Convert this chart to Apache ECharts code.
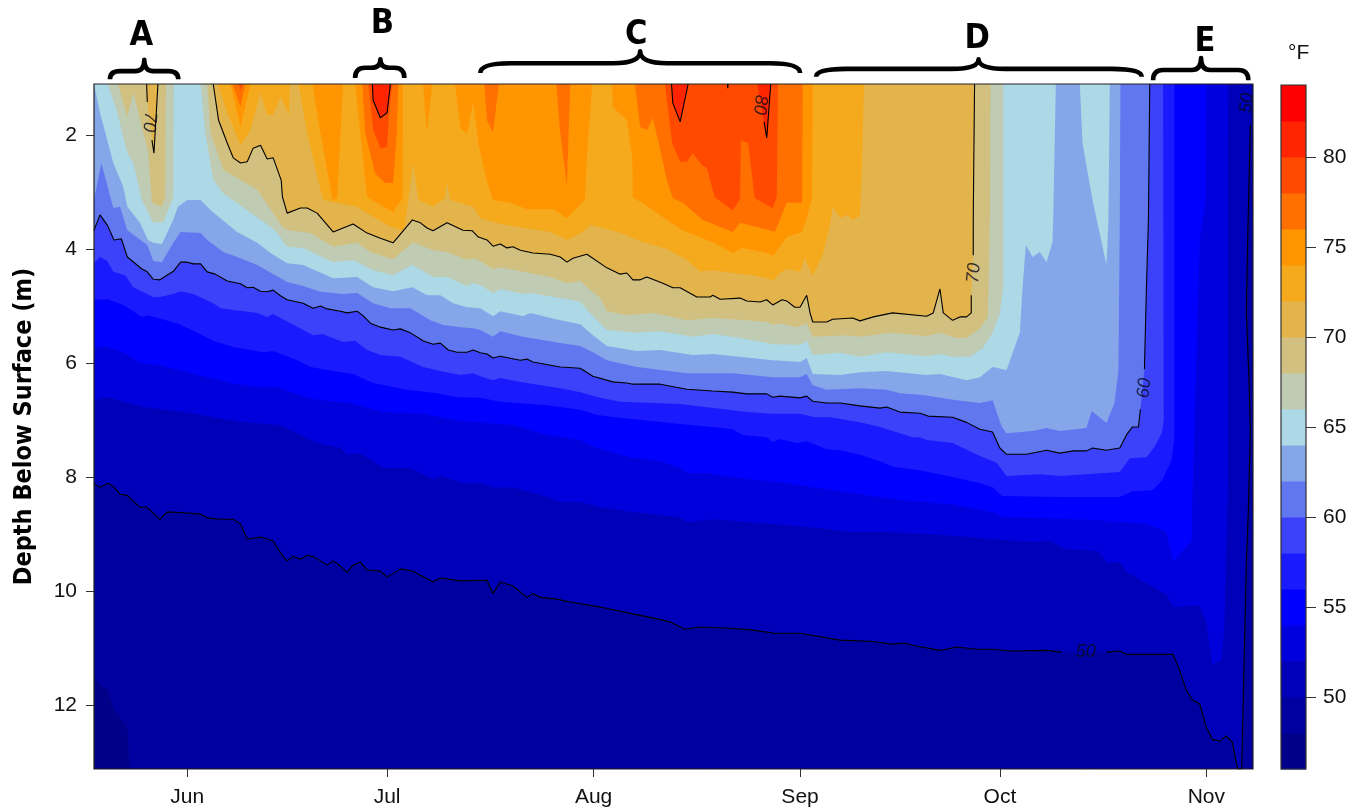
<!DOCTYPE html>
<html><head><meta charset="utf-8"><style>html,body{margin:0;padding:0;background:#fff}#c{width:1362px;height:809px}</style>
<script src="https://cdn.jsdelivr.net/npm/echarts@6/dist/echarts.min.js"></script></head><body><div id="c"></div>
<script>
// x = days since 1 June, y = depth (m). Flat lists: day,depth,... ; null = break in the drawn contour line.
const xMin=-14,xMax=160,TOP=1.105,BOTTOM=13.12;
const monthDays=[0,30,61,92,122,153];
const monthNames=['Jun','Jul','Aug','Sep','Oct','Nov'];
const depthTicks=[2,4,6,8,10,12];
const tempTicks=[50,55,60,65,70,75,80];
const bandLow=[46,48,50,52,54,56,58,60,62,64,66,68,70,72,74,76,78,80,82];
const bandColors=['#00008B','#0000A0','#0000B8','#0000DC','#0000FF','#1A1AFF','#3C42F9','#6077F0','#85A6E9','#ADD8E6','#BFCBB3','#D1C07F','#E3B44B','#F5AA1E','#FF9500','#FF7000','#FF4A00','#FF2500','#FF0000'];
const iso46=[-14,13.12,160,13.12];
const iso48=[-14,11.44,-13.1,11.65,-12,11.7,-11.1,12.04,-9,12.4,-8.6,13.1,-8.4,13.12,160,13.12];
const iso50=[-14,8.11,-13.1,8.18,-12,8.11,-11.1,8.16,-10.1,8.3,-9,8.32,-7.1,8.53,-6,8.53,-4.1,8.74,-3,8.61,0,8.63,2,8.65,3.2,8.72,5,8.74,6.9,8.74,8,8.82,9,9.09,11,9.05,12.9,9.12,14,9.33,15,9.47,15.9,9.39,17,9.44,18,9.37,18.9,9.39,21,9.54,21.9,9.47,23,9.56,24,9.67,24.9,9.54,26,9.49,27,9.63,29,9.65,30,9.75,32,9.61,33.9,9.65,36.9,9.84,38,9.77,41,9.82,45,9.81,45.9,10.04,47,9.84,48.9,9.91,51,10.11,51.9,10.04,53,10.11,55.5,10.14,57.5,10.19,62,10.28,66.5,10.39,69.5,10.46,72.5,10.54,74.7,10.67,77,10.63,81.5,10.65,84.5,10.68,88.2,10.74,92,10.74,98,10.86,102.5,10.88,105.9,10.93,107.7,10.91,108.9,10.95,113,11.04,115.5,10.98,118.5,11.02,120.9,11.02,123.5,11.05,129,11.04,131.3,11.07,null,138,11.07,140,11.05,141,11.11,148,11.11,149,11.39,150,11.74,150.9,11.91,152,11.98,153,12.39,153.9,12.6,155,12.63,156,12.54,156.9,12.65,157.7,13.12,158.3,13.12,159,9.51,159.3,8.58,159.6,7.18,159.4,6.3,159,5.12,159.2,3.84,159.6,1.82,null,159.8,1.105];
const iso52=[-14,6.65,-11.6,6.6,-10.5,6.65,-6.6,6.77,-0.6,6.86,8.4,7.04,14,7.09,19.5,7.4,23,7.49,24,7.61,26,7.58,29.4,7.84,33.5,7.84,36.9,8.04,38,7.98,41.4,8.11,44,8.11,45.9,8.18,48.9,8.18,54,8.35,56,8.44,59,8.44,62,8.53,68,8.63,74,8.7,75,8.79,78.9,8.74,87,8.82,93.9,8.88,99,8.96,104,8.96,114,9.02,120.9,9.09,126.9,9.14,129.5,9.12,131.7,9.26,136.7,9.3,138.2,9.51,140,9.49,141,9.67,144,9.86,147,10.07,148,10.28,152,10.25,153,10.56,153.9,11.3,155.3,11.21,155.7,10.63,156.2,8.4,156.3,1.105];
const iso54=[-14,5.72,-12,5.72,-9.6,5.81,-7.1,6,-4.1,6.04,0,6.16,3,6.25,6.5,6.35,10.5,6.42,13.5,6.42,18,6.61,20.4,6.65,24.5,6.7,29.4,6.86,35.4,6.89,41,7.02,44,7.04,48.9,7.09,54,7.26,59,7.35,61.5,7.49,66.5,7.65,71,7.72,74,7.84,75.2,7.93,78,7.93,83,8.02,89,8.09,93.9,8.18,104,8.35,107,8.4,114.5,8.47,120.9,8.61,122.4,8.7,135.9,8.75,144,8.82,147,8.96,148,9.49,150.8,9.11,150.9,8.4,152,3.84,152.9,3.14,153,1.105];
const iso56=[-14,4.89,-12,4.88,-9.6,4.98,-6.8,5.19,-6,5.16,-1.5,5.3,1.5,5.47,3.9,5.61,6.9,5.72,11.4,5.81,12.9,5.79,16.5,5.95,18.5,6.07,23,6.16,24.9,6.19,27.9,6.35,33,6.47,37.5,6.53,40.5,6.6,44,6.61,47,6.68,54,6.74,59,6.82,61.5,6.91,65,6.96,74,7.07,78.9,7.12,81.9,7.16,83.4,7.26,87,7.3,87.9,7.39,89,7.33,91.5,7.4,93,7.37,96,7.51,98,7.53,101,7.61,104,7.72,105.9,7.82,110,7.88,114.9,8,119,8.11,120.9,8.18,122.3,8.33,131,8.35,140,8.35,141.9,8.25,144.9,8.23,146.4,8.05,147.8,7.7,148.2,7.3,148.2,3.49,148.2,1.105];
const iso58=[-14,4.25,-13.1,4.14,-12,4.21,-11.1,4.4,-9.3,4.46,-8.1,4.67,-5.1,4.84,-4.1,4.84,-2.1,4.79,-1,4.74,0.9,4.79,3.9,4.95,5,5.04,10.5,5.12,12,5.19,12.9,5.14,15.5,5.3,18.9,5.51,20.3,5.49,23.4,5.63,25.2,5.61,27,5.77,29,5.86,32,5.89,35.4,6.07,38,6.14,41,6.21,42.9,6.18,44,6.23,45.9,6.3,47,6.26,50,6.33,56,6.44,59,6.51,62,6.61,65,6.68,74,6.72,84,6.86,87.9,6.89,92,6.89,94.2,6.95,96.5,6.95,101,7.04,104,7.12,108.9,7.3,110,7.3,111,7.35,114.9,7.4,119,7.63,121.5,7.75,123,7.98,128,7.95,131,7.98,140,7.91,141.5,7.67,144,7.65,145.2,7.47,146.3,7.23,146.6,7,146.5,1.105];
const iso60=[-14,3.67,-13.1,3.4,-12,3.58,-11,3.84,-9.9,3.82,-9,4.14,-6.8,4.35,-6,4.4,-5.1,4.53,-4.1,4.54,-2.1,4.39,-1,4.23,0,4.23,0.9,4.26,2,4.26,3,4.4,4.2,4.44,6,4.56,8,4.61,9,4.68,9.9,4.67,11,4.74,12,4.75,12.9,4.72,14,4.82,15,4.89,17.4,4.95,18.9,5.04,20,5,21,5.05,23,5.09,24,5.12,25.5,5.09,26.3,5.16,27.5,5.3,29,5.37,30.9,5.42,32,5.4,33.5,5.47,35.4,5.61,36.9,5.67,38,5.65,39.2,5.77,40.5,5.81,42,5.81,42.9,5.77,44,5.82,45,5.84,45.9,5.91,47,5.88,50,5.95,51,5.93,51.9,5.98,56,6.07,59,6.09,60.9,6.23,63.9,6.33,66,6.35,66.9,6.37,71,6.37,75,6.46,78.9,6.49,81.9,6.51,84,6.54,87,6.54,87.9,6.6,89,6.58,92,6.61,93,6.58,93.9,6.67,96,6.7,98,6.7,101,6.75,104,6.79,105,6.77,107,6.86,110,6.88,111.2,6.93,114.9,6.95,117,7.04,119,7.16,120.9,7.21,122,7.49,123,7.6,126,7.6,129,7.53,131,7.58,133,7.54,135,7.54,135.9,7.49,138,7.53,140,7.49,141,7.26,141.9,7.12,142.8,7.12,143.1,6.81,null,143.7,6.11,144,4.67,144.3,3.49,144.5,1.105];
const iso62=[-14,3.14,-12.9,2.49,-11.1,3.28,-10.1,3.26,-9,3.67,-6,3.93,-5.1,4.21,-3.8,4.23,-2.1,3.89,-1,3.7,2,3.72,3,3.84,5.4,4.05,7.5,4.14,10.5,4.28,15,4.58,17.4,4.65,20,4.75,23.4,4.79,25.5,4.77,27.9,4.95,30.5,5.04,33.5,5.04,36.5,5.25,38.4,5.33,41,5.37,42.9,5.39,44,5.42,45.9,5.54,47,5.44,50.4,5.54,56,5.65,59,5.7,60.9,5.81,63,5.95,67.5,6.07,75,6.18,81.9,6.18,87.9,6.25,92,6.25,93,6.19,93.9,6.39,96,6.47,101,6.44,105,6.47,107,6.53,110.4,6.56,115.5,6.65,119,6.7,120.9,6.65,122.3,7.12,123,7.23,126.9,7.19,129,7.14,131,7.19,135,7.14,135.8,6.84,138,7.05,139.2,6.7,139.8,6.12,140,3.49,140.1,1.105];
const iso64=[-13.8,1.105,-13.1,1.61,-11.1,2.49,-9.6,2.91,-9,3.26,-7.1,3.54,-5.9,3.84,-5.1,3.89,-3.8,3.91,-2.1,3.49,-1.4,3.26,0,3.14,2,3.14,3.5,3.32,5.3,3.49,7.5,3.7,10.5,3.89,12.5,4.07,15,4.25,17.4,4.28,21.9,4.51,25.5,4.49,27.9,4.67,30.9,4.74,33.8,4.67,36,4.81,38,4.81,39.9,4.95,42,5.02,44,5.04,45.9,5.18,47,5.09,50.4,5.18,51.5,5.12,56,5.25,59,5.32,60.9,5.51,63,5.7,67.5,5.79,71,5.77,75.9,5.86,78.9,5.84,87.9,5.95,92,5.98,93,5.91,93.9,6.19,98,6.21,101,6.16,105,6.14,111,6.21,113,6.19,117,6.3,119,6.25,120.9,6.07,123,6.12,125,5.47,125.4,4.67,125.9,3.93,126.9,4.14,128,4.05,129,4.23,129.9,3.88,130,3.49,130.4,1.105,134,1.105,134.4,2.14,135.9,3.14,137.2,3.84,138,4.28,138.3,3.49,138.5,1.105];
const iso66=[-11.9,1.105,-10.5,1.61,-9,2.32,-8.1,2.49,-6.8,3.14,-5.1,3.54,-3.6,3.53,-2.1,3.09,-2,1.105,2,1.105,2.7,1.96,3.9,2.79,5.4,3.02,9,3.32,12.5,3.61,13.5,3.72,15,3.96,17.4,3.98,21.9,4.23,24.9,4.19,27.9,4.37,30.9,4.46,33.8,4.28,36.9,4.49,39,4.49,42,4.65,42.9,4.6,44,4.63,45.9,4.77,47,4.7,50.4,4.79,51.5,4.77,57,4.88,59,4.93,61.5,5.25,63,5.42,67.5,5.47,71,5.44,75.9,5.54,78.9,5.49,83,5.56,87,5.65,87.9,5.67,92,5.68,93,5.61,93.9,5.86,98,5.82,101,5.89,105,5.81,111,5.88,113,5.84,114.9,5.89,117.5,5.89,119.4,5.74,120.9,5.47,122,5.12,122.5,4.67,122.5,1.105];
const iso68=[-10.4,1.105,-9,1.68,-8.1,1.25,-6.6,1.96,-5.9,2.26,-5.3,3.19,-3.8,3.26,-3.3,3.09,-3.2,1.105,3,1.105,3.5,1.96,5.4,2.61,8,2.79,10.5,2.96,12.9,3.37,14.4,3.63,15.2,3.67,18.5,3.72,21.9,3.96,25.5,3.89,27.5,4.05,30.9,4.18,33.9,3.88,36.9,4.02,39,4.05,42,4.19,42.9,4.16,44,4.21,45.9,4.35,47,4.32,50.4,4.4,54.5,4.49,57,4.6,59,4.56,60.5,4.72,62,4.86,63,5.09,66,5.16,69.9,5.12,75,5.25,78.9,5.21,84,5.25,87,5.28,87.9,5.33,89,5.3,91.5,5.37,93,5.3,93.9,5.54,99,5.51,101,5.54,105.5,5.47,111,5.53,113,5.47,115.5,5.56,117,5.56,119,5.39,120.2,5.19,120.5,3.49,120.6,1.105];
const iso70=[-6.1,1.105,-6,1.42,null,-5.3,2.09,-5,2.32,-4.4,1.105,3.9,1.105,4.7,1.74,6,2.14,6.9,2.4,8,2.49,9,2.47,9.9,2.23,11,2.18,12,2.42,12.9,2.4,14.1,2.79,14.3,3.09,15,3.37,17,3.28,18,3.28,19.5,3.37,21.9,3.7,24.9,3.56,27,3.72,29,3.81,30.9,3.89,33.8,3.49,35,3.54,36,3.63,36.9,3.68,39,3.54,41.4,3.67,42.8,3.68,43.7,3.79,45,3.84,45.9,3.95,47,3.91,48,3.98,48.9,3.96,50,4.02,51.9,4.07,54.5,4.09,56,4.14,57,4.23,57.9,4.16,60,4.09,63,4.33,65,4.44,66,4.42,66.9,4.54,68,4.54,69,4.49,71.4,4.6,72.9,4.68,74,4.68,76.5,4.84,78.5,4.84,78.9,4.81,80,4.88,83,4.86,84,4.91,86,4.93,87,4.89,87.9,4.98,89.3,4.89,90,4.91,91.2,5.02,92,5.02,93,4.81,93.5,5.12,93.9,5.28,96,5.28,96.9,5.23,99.9,5.21,101,5.26,103,5.19,105.9,5.12,111,5.18,112,5.12,113,4.7,113.5,5.12,114.9,5.25,116,5.19,117,5.19,117.7,5.12,117.7,4.81,null,118,4.11,118,3.49,118.2,1.105];
const iso72=[4.6,1.105,6,1.61,8,2.18,9.5,1.91,11,1.26,12,1.65,12.9,1.65,14,1.33,15.3,1.65,15.4,1.105,16.7,1.105,18,1.96,20,2.96,20.4,3.14,25.5,3.26,27,3.37,30.5,3.61,32.4,3.67,32.7,3.58,33.9,2.49,34.7,3.14,36.9,3.26,38.7,3.11,39,2.82,39.5,3.14,42.9,3.26,44,3.46,47,3.56,54.5,3.7,57,3.84,59.4,3.7,60.5,3.58,62.4,3.63,65,3.72,68.4,3.88,72,4,75,4.19,77,4.4,78.9,4.37,81.9,4.42,84.9,4.46,87,4.51,87.9,4.56,89,4.42,90,4.35,92,4.4,92.7,4.16,93.9,4.47,95.4,4.11,96.5,3.58,96.9,3.26,98,3.46,99,3.4,99.9,3.49,101,3.42,101.3,2.56,101.6,1.105];
const iso74=[6.5,1.105,8,1.86,9.5,1.105,18.8,1.105,20,1.96,21.8,3.14,22.5,3.11,23.4,1.105,25.2,1.105,27,3.09,30.9,3.35,32.3,3.11,32.4,1.105,35.4,1.105,36,1.96,36.8,1.105,40.2,1.105,41,1.88,42,1.98,42.9,1.42,43.7,2.14,45,2.82,45.9,3.14,48.5,3.19,51,3.3,54.9,3.3,57,3.46,59.7,3.14,60,2.39,60.8,1.105,63.8,1.105,63.9,1.51,66,1.74,66.8,2.39,66.9,3.09,69.5,3.28,72,3.49,74.4,3.67,78.9,3.88,81.9,4.07,83.4,3.98,87,4.07,87.9,4.12,90,3.79,92.3,3.7,92.9,3.49,93.8,3.09,93.9,1.105];
const iso76=[6.8,1.105,8,1.51,8.7,1.105,26.3,1.105,26.7,1.96,28.2,2.67,29.7,2.84,30.9,2.84,31.4,2.09,31.7,1.105,44.6,1.105,45,1.74,45.9,1.95,46.8,1.105,55.4,1.105,56,1.96,57,2.88,57.5,1.105,67.2,1.105,68,1.86,69,1.91,69.9,1.7,71,2.26,72,2.79,72.9,3.11,74.4,3.19,77.4,3.49,81.9,3.7,83,3.54,87.5,3.67,88.2,3.7,90,3.19,92.3,3.19,92.4,1.105];
const iso78=[7.7,1.105,8,1.21,8.3,1.105,27.2,1.105,27.9,1.91,29,2.23,30,2.21,30.3,1.61,30.8,1.105,71.7,1.105,72.8,2.14,74,2.47,75,2.47,75.9,2.32,77.3,2.53,78,2.58,79.2,3.09,81.9,3.32,83,3.12,83.1,2.09,84.2,2.14,85.2,3.11,87.9,3.28,88.5,3.09,88.7,1.105];
const iso80=[27.8,1.105,27.9,1.39,29,1.7,30,1.61,30.5,1.105,72.7,1.105,72.9,1.44,74,1.77,75.2,1.105,81.1,1.105,81.15,1.18,81.2,1.105,85.6,1.105,null,86.6,1.77,87,2.05,87.6,1.105];
const isoList=[iso46,iso48,iso50,iso52,iso54,iso56,iso58,iso60,iso62,iso64,iso66,iso68,iso70,iso72,iso74,iso76,iso78,iso80];
const contourLevels=[50,60,70,80];
const contourText=['70','80','70','60','50','50'];
const contourDay=[-5.7,86,118.1,143.7,134.9,159.1];
const contourDepth=[1.77,1.47,4.42,6.44,11.07,1.44];
const contourTurn=[-95,-95,85,85,0,85];
const braceText=['A','B','C','D','E'];
const braceFrom=[-11.6,25.2,44,94.4,145];
const braceTo=[-1.35,32.6,92,143.3,159.3];
const braceMid=[-6.45,29,68,118.8,152.2];
const braceFoot=[1.02,1,0.91,0.98,1.04];
const braceBar=[0.88,0.82,0.74,0.84,0.86];
const braceTip=[0.68,0.67,0.53,0.67,0.65];
const braceCurve=[10,10,30,30,10];
const letterDay=[-6.9,29.3,67.4,118.6,152.8];
const letterDepth=[0.26,0.05,0.24,0.31,0.37];

function pairs(a){const o=[];for(let i=0;i<a.length;){if(a[i]===null){o.push(null);i++;}else{o.push([a[i],a[i+1]]);i+=2;}}return o;}
function fillData(a){const p=pairs(a).filter(Boolean);if(p[0][0]>xMin)p.unshift([xMin,TOP]);if(p[p.length-1][0]<xMax)p.push([xMax,TOP]);return p;}
function lineData(a){const p=pairs(a),o=[];p.forEach((q,i)=>{const r=p[i-1];if(q&&r&&q[1]===TOP&&r[1]===TOP)o.push([null,null]);o.push(q||[null,null]);});return o;}
const FONT='"Liberation Sans",Arial,sans-serif',NARROW='"DejaVu Sans Condensed","Liberation Sans",sans-serif';
const series=[];
isoList.forEach((a,i)=>{series.push({type:'line',xAxisIndex:0,yAxisIndex:0,data:fillData(a),symbol:'none',silent:true,animation:false,lineStyle:{width:0},areaStyle:{color:bandColors[i],opacity:1,origin:'start'},z:2+i*0.01});});
contourLevels.forEach(t=>{series.push({type:'line',xAxisIndex:0,yAxisIndex:0,data:lineData(isoList[bandLow.indexOf(t)]),symbol:'none',silent:true,animation:false,connectNulls:false,lineStyle:{color:'#000',width:1.1},z:3});});
series.push({type:'custom',xAxisIndex:0,yAxisIndex:0,data:contourText.map((t,i)=>[contourDay[i],contourDepth[i]]),silent:true,animation:false,z:4,clip:false,
 renderItem(p,api){const i=p.dataIndex,c=api.coord([contourDay[i],contourDepth[i]]);return {type:'text',x:c[0],y:c[1],rotation:contourTurn[i]*Math.PI/180,style:{text:contourText[i],fill:'rgba(10,10,30,.8)',font:'italic 18px '+FONT,textAlign:'center',textVerticalAlign:'middle'}};}});
series.push({type:'custom',xAxisIndex:0,yAxisIndex:0,data:[[xMin,TOP]],silent:true,animation:false,z:5,clip:false,
 renderItem(p,api){const a=api.coord([xMin,TOP]),b=api.coord([xMax,BOTTOM]);return {type:'rect',shape:{x:a[0],y:a[1],width:b[0]-a[0],height:b[1]-a[1]},style:{fill:'none',stroke:'#222',lineWidth:1.2}};}});
series.push({type:'custom',xAxisIndex:0,yAxisIndex:0,data:braceText.map((t,i)=>[braceMid[i],braceTip[i]]),silent:true,animation:false,z:6,clip:false,
 renderItem(p,api){const i=p.dataIndex,y=api.coord([0,braceFoot[i]])[1],b=api.coord([0,braceBar[i]])[1],t=api.coord([0,braceTip[i]])[1],x0=api.coord([braceFrom[i],0])[0],x1=api.coord([braceTo[i],0])[0],m=api.coord([braceMid[i],0])[0],r=braceCurve[i],n=r*0.9;
  const d=`M${x0} ${y}Q${x0} ${b} ${x0+r} ${b}L${m-n} ${b}Q${m} ${b} ${m} ${t}Q${m} ${b} ${m+n} ${b}L${x1-r} ${b}Q${x1} ${b} ${x1} ${y}`;
  const l=api.coord([letterDay[i],letterDepth[i]]);
  return {type:'group',children:[{type:'path',shape:{pathData:d},style:{fill:'none',stroke:'#000',lineWidth:4.6,lineCap:'butt',lineJoin:'round'}},{type:'text',x:l[0],y:l[1],style:{text:braceText[i],fill:'#000',font:'bold 34px '+NARROW,textAlign:'center',textVerticalAlign:'middle'}}]};}});
series.push({type:'custom',xAxisIndex:1,yAxisIndex:1,data:bandLow.map(v=>[0,v]),silent:true,animation:false,z:2,
 renderItem(p,api){const i=p.dataIndex,a=api.coord([0,bandLow[i]+2]),b=api.coord([1,bandLow[i]]);return {type:'rect',shape:{x:a[0],y:a[1],width:b[0]-a[0],height:b[1]-a[1]+0.5},style:{fill:bandColors[i]}};}});
series.push({type:'custom',xAxisIndex:1,yAxisIndex:1,data:[[0,46]],silent:true,animation:false,z:5,clip:false,
 renderItem(p,api){const a=api.coord([0,84]),b=api.coord([1,46]);return {type:'rect',shape:{x:a[0],y:a[1],width:b[0]-a[0],height:b[1]-a[1]},style:{fill:'none',stroke:'#333',lineWidth:1.2}};}});
const chart=echarts.init(document.getElementById('c'),null,{renderer:'canvas'});
chart.setOption({animation:false,backgroundColor:'#fff',
 title:[{text:'°F',left:1283,top:38,textStyle:{fontFamily:FONT,fontSize:21,fontWeight:'normal',color:'#111'}}],
 grid:[{left:94,right:109,top:84,bottom:40,containLabel:false},{left:1281,width:25,top:85,height:684,containLabel:false}],
 xAxis:[{type:'value',gridIndex:0,min:xMin,max:xMax,splitLine:{show:false},axisLine:{show:false,onZero:false},
   axisTick:{show:true,length:8,lineStyle:{color:'#333',width:1},customValues:monthDays},
   axisLabel:{customValues:monthDays,margin:18,color:'#111',fontFamily:FONT,fontSize:21,formatter:v=>monthNames[monthDays.indexOf(v)]}},
  {type:'value',gridIndex:1,min:0,max:1,show:false}],
 yAxis:[{type:'value',gridIndex:0,inverse:true,min:TOP,max:BOTTOM,splitLine:{show:false},axisLine:{show:false,onZero:false},
   name:'Depth Below Surface (m)',nameLocation:'middle',nameGap:57,nameRotate:90,nameTextStyle:{fontFamily:NARROW,fontWeight:'bold',fontSize:25,color:'#000'},
   axisTick:{show:true,length:8,lineStyle:{color:'#333',width:1},customValues:depthTicks},
   axisLabel:{customValues:depthTicks,margin:17,color:'#111',fontFamily:FONT,fontSize:21}},
  {type:'value',gridIndex:1,position:'right',min:46,max:84,splitLine:{show:false},axisLine:{show:false,onZero:false},
   axisTick:{show:true,length:10,lineStyle:{color:'#333',width:1},customValues:tempTicks},
   axisLabel:{customValues:tempTicks,margin:17,color:'#111',fontFamily:FONT,fontSize:21}}],
 series});
</script></body></html>
